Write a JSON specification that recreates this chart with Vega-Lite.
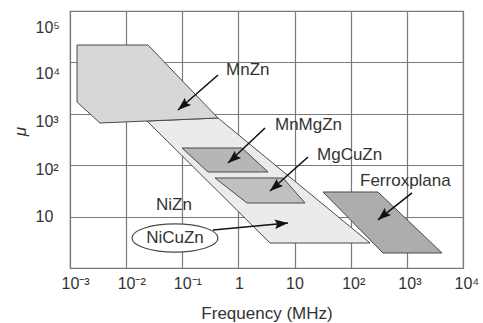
{
  "$schema": "https://vega.github.io/schema/vega-lite/v6.json",
  "width": 393,
  "height": 257,
  "autosize": "none",
  "padding": {"left": 70, "top": 11, "right": 20, "bottom": 55},
  "background": "white",
  "config": {
    "view": {"stroke": "#7a7a7a", "strokeWidth": 1.2},
    "font": "Liberation Sans"
  },
  "datasets": {
    "regions": [
      {"name": "NiZn", "i": 0, "f": 0.02353, "mu": 724},
      {"name": "NiZn", "i": 1, "f": 0.4325, "mu": 828},
      {"name": "NiZn", "i": 2, "f": 220.6, "mu": 3.064},
      {"name": "NiZn", "i": 3, "f": 3.651, "mu": 3.064},
      {"name": "NiZn", "i": 4, "f": 0.02353, "mu": 724},
      {"name": "MnZn", "i": 0, "f": 0.001334, "mu": 21800},
      {"name": "MnZn", "i": 1, "f": 0.0245, "mu": 21800},
      {"name": "MnZn", "i": 2, "f": 0.4325, "mu": 828},
      {"name": "MnZn", "i": 3, "f": 0.00342, "mu": 662},
      {"name": "MnZn", "i": 4, "f": 0.001334, "mu": 1697},
      {"name": "MnZn", "i": 5, "f": 0.001334, "mu": 21800},
      {"name": "MnMgZn", "i": 0, "f": 0.0989, "mu": 216},
      {"name": "MnMgZn", "i": 1, "f": 1.158, "mu": 216},
      {"name": "MnMgZn", "i": 2, "f": 3.365, "mu": 73.8},
      {"name": "MnMgZn", "i": 3, "f": 0.287, "mu": 73.8},
      {"name": "MnMgZn", "i": 4, "f": 0.0989, "mu": 216},
      {"name": "MgCuZn", "i": 0, "f": 0.383, "mu": 56.4},
      {"name": "MgCuZn", "i": 1, "f": 6.22, "mu": 56.4},
      {"name": "MgCuZn", "i": 2, "f": 15.35, "mu": 18.4},
      {"name": "MgCuZn", "i": 3, "f": 1.422, "mu": 18.4},
      {"name": "MgCuZn", "i": 4, "f": 0.383, "mu": 56.4},
      {"name": "Ferroxplana", "i": 0, "f": 32.1, "mu": 30.1},
      {"name": "Ferroxplana", "i": 1, "f": 306, "mu": 30.1},
      {"name": "Ferroxplana", "i": 2, "f": 4227, "mu": 1.958},
      {"name": "Ferroxplana", "i": 3, "f": 376, "mu": 1.958},
      {"name": "Ferroxplana", "i": 4, "f": 32.1, "mu": 30.1}
    ],
    "arrows": [
      {"name": "MnZn", "f": 0.4325, "mu": 5690, "f2": 0.0839, "mu2": 1186},
      {"name": "MnMgZn", "f": 2.975, "mu": 529, "f2": 0.652, "mu2": 110.4},
      {"name": "MgCuZn", "f": 17.35, "mu": 144.4, "f2": 3.651, "mu2": 31.5},
      {"name": "Ferroxplana", "f": 1236, "mu": 28.8, "f2": 306, "mu2": 8.59},
      {"name": "NiCuZn", "f": 0.352, "mu": 5.49, "f2": 7.64, "mu2": 7.51}
    ],
    "labels": [
      {"text": "MnZn", "f": 0.601, "mu": 7115},
      {"text": "MnMgZn", "f": 4.48, "mu": 606},
      {"text": "MgCuZn", "f": 25.1, "mu": 157.9},
      {"text": "Ferroxplana", "f": 146.5, "mu": 49.3},
      {"text": "NiZn", "f": 0.034, "mu": 16.8}
    ],
    "boxed": [
      {"text": "NiCuZn", "f": 0.0741, "mu": 3.835}
    ]
  },
  "encoding": {
    "x": {
      "field": "f", "type": "quantitative",
      "scale": {"type": "log", "domain": [0.001, 10000], "nice": false},
      "axis": {
        "title": "Frequency (MHz)",
        "values": [0.001, 0.01, 0.1, 1, 10, 100, 1000, 10000],
        "labelExpr": "datum.value < 0.005 ? '10⁻³' : datum.value < 0.05 ? '10⁻²' : datum.value < 0.5 ? '10⁻¹' : datum.value < 5 ? '1' : datum.value < 50 ? '10' : datum.value < 500 ? '10²' : datum.value < 5000 ? '10³' : '10⁴'",
        "labelAlign": "left",
        "labelOffset": {"condition": {"test": "datum.value > 0.5 && datum.value < 5", "value": -4}, "value": -9},
        "labelFontSize": 16,
        "labelColor": "#333",
        "labelPadding": 7,
        "labelFlush": false,
        "labelOverlap": false,
        "ticks": false,
        "tickSize": 0,
        "domain": false,
        "grid": true,
        "gridColor": "#7a7a7a",
        "gridWidth": 1.2,
        "titleFontSize": 17,
        "titleFontWeight": "normal",
        "titleColor": "#333",
        "titleY": 45,
        "titleBaseline": "middle"
      }
    },
    "y": {
      "field": "mu", "type": "quantitative",
      "scale": {"type": "log", "domain": [1, 100000], "nice": false},
      "axis": {
        "title": "μ",
        "values": [10, 100, 1000, 10000, 100000],
        "labelExpr": "datum.value < 50 ? '10' : datum.value < 500 ? '10²' : datum.value < 5000 ? '10³' : datum.value < 50000 ? '10⁴' : '10⁵'",
        "labelAlign": "left",
        "labelPadding": 35,
        "labelOffset": {"condition": [
          {"test": "datum.value > 50000", "value": 16},
          {"test": "datum.value > 5000", "value": 11},
          {"test": "datum.value > 500", "value": 8},
          {"test": "datum.value > 50", "value": 4}
        ], "value": 0},
        "labelFontSize": 16,
        "labelColor": "#333",
        "labelFlush": false,
        "labelOverlap": false,
        "ticks": false,
        "tickSize": 0,
        "domain": false,
        "grid": true,
        "gridColor": "#7a7a7a",
        "gridWidth": 1.2,
        "titleFontSize": 17,
        "titleFontWeight": "normal",
        "titleFontStyle": "italic",
        "titleColor": "#333",
        "titleX": -50,
        "titleY": 120,
        "titleAngle": 270,
        "titleAlign": "center",
        "titleBaseline": "middle"
      }
    }
  },
  "layer": [
    {
      "data": {"name": "regions"},
      "transform": [{"filter": "datum.name == 'NiZn'"}],
      "mark": {"type": "line", "fill": "#ebebeb", "stroke": "#4a4a4a", "strokeWidth": 1},
      "encoding": {"order": {"field": "i", "type": "quantitative"}}
    },
    {
      "data": {"name": "regions"},
      "transform": [{"filter": "datum.name == 'MnZn'"}],
      "mark": {"type": "line", "fill": "#d7d7d7", "stroke": "#4a4a4a", "strokeWidth": 1},
      "encoding": {"order": {"field": "i", "type": "quantitative"}}
    },
    {
      "data": {"name": "regions"},
      "transform": [{"filter": "datum.name == 'MnMgZn'"}],
      "mark": {"type": "line", "fill": "#b6b6b6", "stroke": "#4a4a4a", "strokeWidth": 1},
      "encoding": {"order": {"field": "i", "type": "quantitative"}}
    },
    {
      "data": {"name": "regions"},
      "transform": [{"filter": "datum.name == 'MgCuZn'"}],
      "mark": {"type": "line", "fill": "#c0c0c0", "stroke": "#4a4a4a", "strokeWidth": 1},
      "encoding": {"order": {"field": "i", "type": "quantitative"}}
    },
    {
      "data": {"name": "regions"},
      "transform": [{"filter": "datum.name == 'Ferroxplana'"}],
      "mark": {"type": "line", "fill": "#adadad", "stroke": "#4a4a4a", "strokeWidth": 1},
      "encoding": {"order": {"field": "i", "type": "quantitative"}}
    },
    {
      "data": {"name": "arrows"},
      "mark": {"type": "rule", "color": "#111", "strokeWidth": 1.6},
      "encoding": {
        "x2": {"field": "f2"},
        "y2": {"field": "mu2"}
      }
    },
    {
      "data": {"name": "arrows"},
      "transform": [{"filter": "datum.name != 'NiCuZn'"}],
      "mark": {"type": "point", "shape": "M0,0L0.36,1L0,0.82L-0.36,1Z", "filled": true, "color": "#111", "opacity": 1, "size": 700, "angle": 229},
      "encoding": {
        "x": {"field": "f2", "type": "quantitative"},
        "y": {"field": "mu2", "type": "quantitative"}
      }
    },
    {
      "data": {"name": "arrows"},
      "transform": [{"filter": "datum.name == 'NiCuZn'"}],
      "mark": {"type": "point", "shape": "M0,0L0.36,1L0,0.82L-0.36,1Z", "filled": true, "color": "#111", "opacity": 1, "size": 700, "angle": 85},
      "encoding": {
        "x": {"field": "f2", "type": "quantitative"},
        "y": {"field": "mu2", "type": "quantitative"}
      }
    },
    {
      "data": {"name": "labels"},
      "mark": {"type": "text", "align": "left", "baseline": "middle", "fontSize": 17, "color": "#333", "font": "Liberation Sans"},
      "encoding": {"text": {"field": "text"}}
    },
    {
      "data": {"name": "boxed"},
      "mark": {"type": "point", "shape": "M-1,0A1,0.33,0,1,1,1,0A1,0.33,0,1,1,-1,0Z", "filled": false, "fill": "white", "fillOpacity": 1, "stroke": "#4a4a4a", "strokeWidth": 1.2, "opacity": 1, "size": 7396},
      "encoding": {}
    },
    {
      "data": {"name": "boxed"},
      "mark": {"type": "text", "align": "center", "baseline": "middle", "fontSize": 17, "color": "#333", "font": "Liberation Sans"},
      "encoding": {"text": {"field": "text"}}
    }
  ]
}
